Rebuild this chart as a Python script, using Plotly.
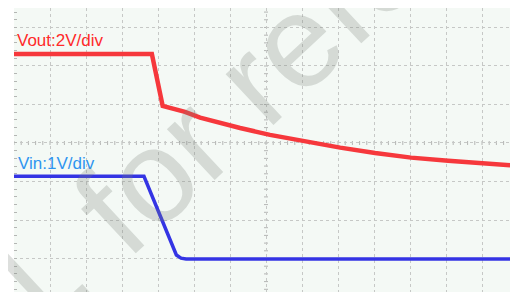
import plotly.graph_objects as go
import numpy as np

# Screen is read in divisions: x 0..14 div, y centred at 0 div
vout_t = [0, 3.83, 4.13, 4.75, 5.17, 5.72, 6.28, 7.11, 7.86, 9.06, 10.03, 11.03, 12.06, 13.08, 14]
vout_v = [2.31, 2.31, 0.96, 0.81, 0.66, 0.52, 0.39, 0.21, 0.08, -0.12, -0.26, -0.38, -0.46, -0.53, -0.59]

vin_t = [0, 3.61, 4.51, 4.64, 4.78, 14]
vin_v = [-0.865, -0.865, -2.91, -2.99, -3.01, -3.01]

labels = ["Vout:2V/div", "Vin:1V/div"]
watermark = "Confidential, for reference only"

# page has an 8px body margin; compensate so the plot area sits at page x 14..518, y 8..292
OFF = 8
W, H = 518 - OFF, 292 - OFF
ML, MR, MT, MB = 14 - OFF, 0, 0, 0
X_RANGE = [0, 14]
Y_RANGE = [-3.87, 3.506]
GRID = "#c6c8c6"
TICK = "#b4b6b4"

fig = go.Figure()
fig.add_trace(go.Scatter(x=vout_t, y=vout_v, mode="lines",
                         line=dict(color="#f6383c", width=4.5), hoverinfo="skip"))
fig.add_trace(go.Scatter(x=vin_t, y=vin_v, mode="lines",
                         line=dict(color="#3434e4", width=3.5), hoverinfo="skip"))

shapes = []
for t in np.arange(0, 14.001, 0.2):
    shapes.append(dict(type="line", xref="x", yref="y", x0=t, x1=t,
                       ysizemode="pixel", yanchor=0, y0=-2, y1=2,
                       line=dict(color=TICK, width=1), layer="below"))
for v in np.arange(-3.8, 3.6, 0.2):
    shapes.append(dict(type="line", xref="x", yref="y", y0=v, y1=v,
                       xsizemode="pixel", xanchor=7, x0=-2, x1=2,
                       line=dict(color=TICK, width=1), layer="below"))

pw, ph = 504, 284
def px2paper(px, py):
    # page pixel -> paper coords of plot area (page x 14..518, y 8..292)
    return (px - 14) / pw, (292 - py) / ph

ann = []
x1, y1 = px2paper(15, 41)
ann.append(dict(text=labels[0], x=x1, y=y1, xref="paper", yref="paper",
                xanchor="left", yanchor="middle", showarrow=False,
                font=dict(family="Liberation Sans", size=17, color="#ff2a2a")))
x2, y2 = px2paper(16, 164)
ann.append(dict(text=labels[1], x=x2, y=y2, xref="paper", yref="paper",
                xanchor="left", yanchor="middle", showarrow=False,
                font=dict(family="Liberation Sans", size=17, color="#2f95f0")))
wx, wy = px2paper(190, 140)
ann.append(dict(text=watermark, x=wx, y=wy, xref="paper", yref="paper",
                xanchor="center", yanchor="middle", showarrow=False, textangle=-43,
                font=dict(family="Liberation Sans", size=132, color="rgba(120,126,120,0.25)")))

fig.update_layout(
    width=W, height=H,
    margin=dict(l=ML, r=MR, t=MT, b=MB),
    paper_bgcolor="white", plot_bgcolor="#f4f9f5",
    showlegend=False,
    shapes=shapes, annotations=ann,
    xaxis=dict(range=X_RANGE, dtick=1, tick0=0, showgrid=True, gridcolor=GRID,
               griddash="dot", gridwidth=1, zeroline=False, showticklabels=False,
               ticks="", showline=False, fixedrange=True),
    yaxis=dict(range=Y_RANGE, dtick=1, tick0=0, showgrid=True, gridcolor=GRID,
               griddash="dot", gridwidth=1, zeroline=False, showticklabels=False,
               ticks="inside", ticklen=3, tickcolor=TICK, mirror="ticks",
               minor=dict(dtick=0.2, tick0=0, ticks="inside", ticklen=3,
                          tickcolor=TICK, showgrid=False),
               showline=False, fixedrange=True),
)

fig.write_html("out.html")
